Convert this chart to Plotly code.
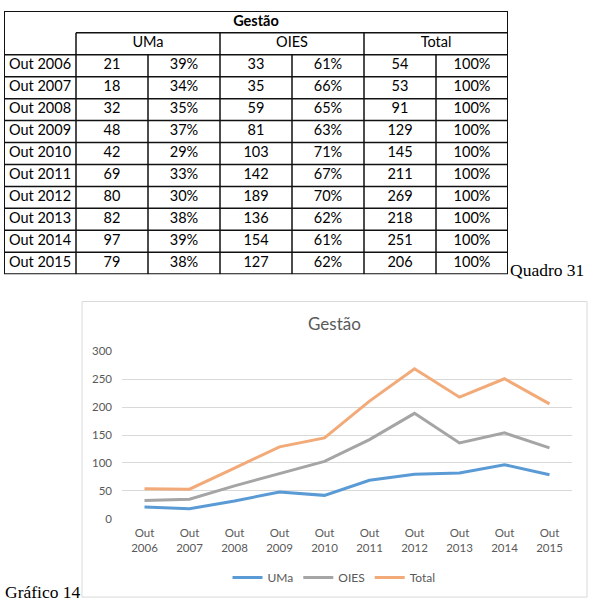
import plotly.graph_objects as go

# ---------------- data ----------------
years = ["Out 2006", "Out 2007", "Out 2008", "Out 2009", "Out 2010",
         "Out 2011", "Out 2012", "Out 2013", "Out 2014", "Out 2015"]
uma = [21, 18, 32, 48, 42, 69, 80, 82, 97, 79]
uma_pct = ["39%", "34%", "35%", "37%", "29%", "33%", "30%", "38%", "39%", "38%"]
oies = [33, 35, 59, 81, 103, 142, 189, 136, 154, 127]
oies_pct = ["61%", "66%", "65%", "63%", "71%", "67%", "70%", "62%", "61%", "62%"]
total = [54, 53, 91, 129, 145, 211, 269, 218, 251, 206]
total_pct = ["100%"] * 10
group_labels = ["UMa", "OIES", "Total"]
table_title = "Gestão"
chart_title = "Gestão"
y_ticks = [0, 50, 100, 150, 200, 250, 300]

W, H = 591, 606
def fx(px):
    return px / W
def fy(py):
    return 1 - py / H

fig = go.Figure()

# ---------------- table (drawn on its own axes) ----------------
n_rows = 2 + len(years)
tx, ty, tt = [], [], []
tx.append(3.5); ty.append(0.5); tt.append("<b>%s</b>" % table_title)
for i, g in enumerate(group_labels):
    tx.append(1 + 2 * i + 1.0); ty.append(1.5); tt.append(g)
for r, yr in enumerate(years):
    row = [yr, str(uma[r]), uma_pct[r], str(oies[r]), oies_pct[r], str(total[r]), total_pct[r]]
    for c, v in enumerate(row):
        tx.append(c + 0.5); ty.append(r + 2.5); tt.append(v)

fig.add_trace(go.Scatter(
    x=tx, y=ty, text=tt, mode="text", xaxis="x2", yaxis="y2",
    textfont=dict(family="Lato", size=14.5, color="#000000"),
    showlegend=False, hoverinfo="skip"))

line_style = dict(color="#111111", width=1.5)
shapes = []
shapes.append(dict(type="rect", xref="x2", yref="y2", x0=0, x1=7, y0=0, y1=n_rows,
                   line=dict(color="#111111", width=2)))
shapes.append(dict(type="line", xref="x2", yref="y2", x0=1, x1=7, y0=1, y1=1, line=line_style))
for r in range(2, n_rows):
    shapes.append(dict(type="line", xref="x2", yref="y2", x0=0, x1=7, y0=r, y1=r, line=line_style))
for c in [1, 3, 5]:
    shapes.append(dict(type="line", xref="x2", yref="y2", x0=c, x1=c, y0=1, y1=n_rows, line=line_style))
for c in [2, 4, 6]:
    shapes.append(dict(type="line", xref="x2", yref="y2", x0=c, x1=c, y0=2, y1=n_rows, line=line_style))

# ---------------- line chart ----------------
series = [("UMa", uma, "#5B9BD5"), ("OIES", oies, "#A5A5A5"), ("Total", total, "#F2AA78")]
for name, vals, col in series:
    fig.add_trace(go.Scatter(
        x=years, y=vals, name=name, mode="lines",
        line=dict(color=col, width=3), xaxis="x", yaxis="y"))

shapes.append(dict(type="rect", xref="paper", yref="paper",
                   x0=fx(82), x1=fx(587), y0=fy(603), y1=fy(301),
                   line=dict(color="#D9D9D9", width=1), layer="below"))

annotations = [
    dict(text=chart_title, x=fx(334), y=fy(323), xref="paper", yref="paper",
         showarrow=False, xanchor="center", yanchor="middle",
         font=dict(family="Lato", size=17, color="#595959")),
    dict(text="Quadro 31", x=fx(508), y=fy(269), xref="paper", yref="paper",
         showarrow=False, xanchor="left", yanchor="middle",
         font=dict(family="Liberation Serif", size=17.5, color="#000000")),
    dict(text="Gráfico 14", x=fx(3), y=fy(598), xref="paper", yref="paper",
         showarrow=False, xanchor="left", yanchor="middle",
         font=dict(family="Liberation Serif", size=17.5, color="#000000")),
]

fig.update_layout(
    width=W, height=H,
    margin=dict(l=0, r=0, t=0, b=0),
    paper_bgcolor="white", plot_bgcolor="white",
    shapes=shapes, annotations=annotations,
    xaxis2=dict(domain=[fx(4), fx(508)], range=[0, 7], visible=False,
                fixedrange=True, anchor="y2"),
    yaxis2=dict(domain=[fy(273), fy(4)], range=[n_rows, 0], visible=False,
                fixedrange=True, anchor="x2"),
    xaxis=dict(domain=[fx(122), fx(572)], type="category", range=[-0.5, 9.5],
               tickvals=years, ticktext=[y.replace(" ", "<br>") for y in years],
               showgrid=False, showline=False, zeroline=False, ticks="",
               ticklabelstandoff=6,
               tickfont=dict(family="Lato", size=11.5, color="#595959"),
               anchor="y"),
    yaxis=dict(domain=[fy(523), fy(352)], range=[0, 300], tickvals=y_ticks,
               showgrid=True, gridcolor="#D9D9D9", gridwidth=1,
               showline=False, zeroline=False, ticks="",
               ticklabelstandoff=9,
               tickfont=dict(family="Lato", size=11.5, color="#595959"),
               anchor="x"),
    legend=dict(orientation="h", x=fx(334), xanchor="center", y=fy(583), yanchor="middle",
                font=dict(family="Lato", size=12, color="#595959"),
                bgcolor="rgba(0,0,0,0)", itemwidth=30, tracegroupgap=0),
    showlegend=True,
)

fig.write_html("out.html")
